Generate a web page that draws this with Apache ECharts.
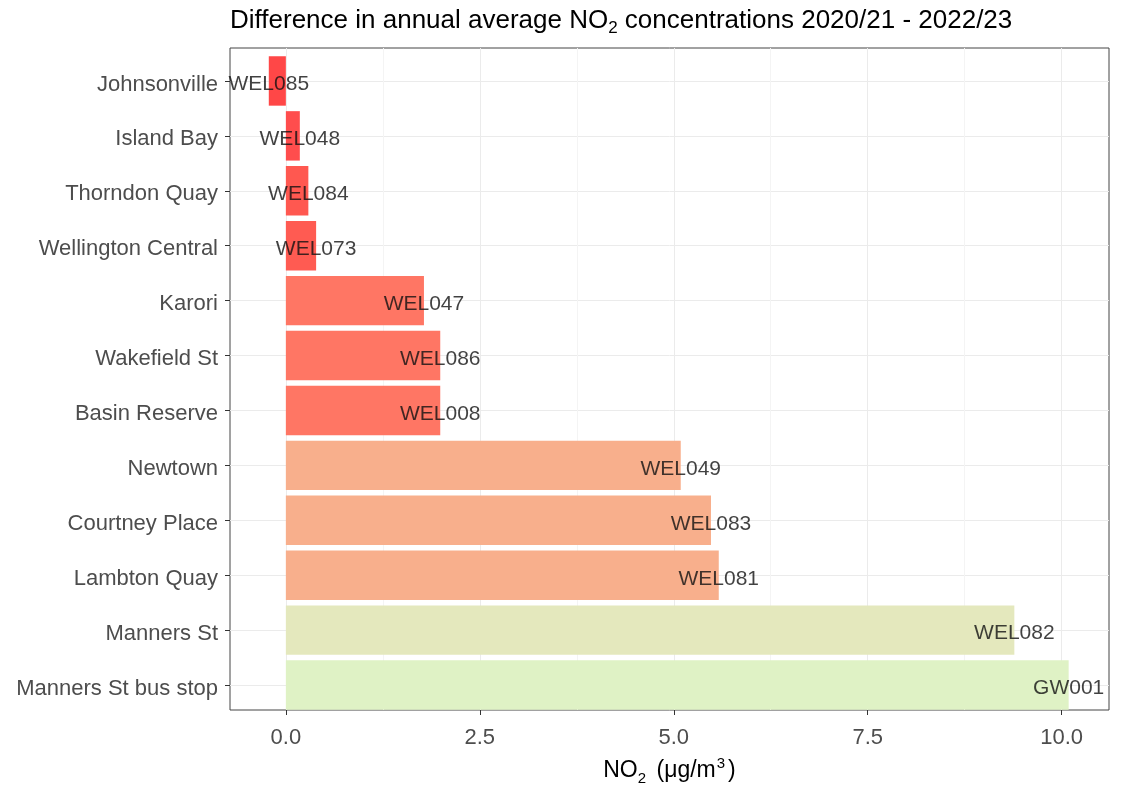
<!DOCTYPE html>
<html>
<head>
<meta charset="utf-8">
<script src="https://cdn.jsdelivr.net/npm/echarts@6/dist/echarts.min.js"></script>
<style>html,body{margin:0;padding:0;background:#fff;}#c{width:1121px;height:791px;}</style>
</head>
<body>
<div id="c"></div>
<script>
const categories = ['Johnsonville','Island Bay','Thorndon Quay','Wellington Central','Karori','Wakefield St','Basin Reserve','Newtown','Courtney Place','Lambton Quay','Manners St','Manners St bus stop'];
const siteCodes = ['WEL085','WEL048','WEL084','WEL073','WEL047','WEL086','WEL008','WEL049','WEL083','WEL081','WEL082','GW001'];
const differences = [-0.22,0.18,0.29,0.39,1.78,1.99,1.99,5.09,5.48,5.58,9.39,10.09];
const xTicks = [0,2.5,5,7.5,10];
const xMinorTicks = [1.25,3.75,6.25,8.75];
const barColors = ['#FF4747','#FF4D4D','#FF5850','#FF5B52','#FF7664','#FF7664','#FF7664','#F8AF8C','#F8AF8C','#F8AF8C','#E4E8BD','#DFF2C5'];

const FONT = "'Liberation Sans', Arial, sans-serif";
const chart = echarts.init(document.getElementById('c'), null, {renderer:'canvas'});
const xMin = -0.72, xMax = 10.61;

chart.setOption({
  animation: false,
  backgroundColor: '#fff',
  title: {
    left: 230, top: 5, padding: 0,
    text: '{t|Difference in annual average NO}{s|2}{t| concentrations 2020/21 - 2022/23}',
    textStyle: {
      rich: {
        t: {fontFamily: FONT, fontSize: 26, fontWeight: 'normal', color: '#000', verticalAlign: 'middle', lineHeight: 32},
        s: {fontFamily: FONT, fontSize: 17, fontWeight: 'normal', color: '#000', verticalAlign: 'bottom', lineHeight: 15}
      }
    }
  },
  grid: [
    {left: 230, right: 12, top: 48, bottom: 73, show: true, borderColor: '#444', borderWidth: 1, backgroundColor: 'transparent'},
    {left: 230, right: 12, top: 53.5, bottom: 78.5, show: false}
  ],
  xAxis: [{
    type: 'value', gridIndex: 0, min: xMin, max: xMax,
    axisLine: {show: false, onZero: false},
    axisTick: {show: true, customValues: xTicks, length: 5, lineStyle: {color: '#333', width: 1}},
    axisLabel: {customValues: xTicks, formatter: v => v.toFixed(1), color: '#4D4D4D', fontSize: 22, fontFamily: FONT, margin: 17},
    splitLine: {show: true, lineStyle: {color: '#EBEBEB', width: 1}},
    name: '{t|NO}{s|2}{t| (μg/m}{p|3}{t|)}',
    nameLocation: 'middle', nameGap: 46,
    nameTextStyle: {
      rich: {
        t: {fontFamily: FONT, fontSize: 23, color: '#000', verticalAlign: 'middle', lineHeight: 30},
        s: {fontFamily: FONT, fontSize: 15, color: '#000', verticalAlign: 'bottom', lineHeight: 14, padding: [0, 4, 0, 0]},
        p: {fontFamily: FONT, fontSize: 15, color: '#000', verticalAlign: 'top', lineHeight: 14, padding: [0, 3, 0, 1]}
      }
    }
  }, {
    type: 'value', gridIndex: 0, min: xMin, max: xMax,
    axisLine: {show: false, onZero: false},
    axisTick: {show: false, customValues: xMinorTicks},
    axisLabel: {show: false, customValues: xMinorTicks},
    splitLine: {show: true, lineStyle: {color: '#F4F4F4', width: 1}}
  }, {
    type: 'value', gridIndex: 1, min: xMin, max: xMax, show: false,
    axisLine: {onZero: false}, splitLine: {show: false}
  }],
  yAxis: [{
    type: 'value', gridIndex: 0, min: 0, max: 1, show: false,
    axisLine: {onZero: false}, splitLine: {show: false}
  }, {
    type: 'category', gridIndex: 1, data: categories, inverse: true,
    axisLine: {show: false, onZero: false},
    axisTick: {show: true, alignWithLabel: true, length: 5, lineStyle: {color: '#333', width: 1}},
    axisLabel: {color: '#4D4D4D', fontSize: 22, fontFamily: FONT, margin: 12, verticalAlign: 'top', lineHeight: 7},
    splitLine: {show: true, alignWithLabel: true, lineStyle: {color: '#EBEBEB', width: 1}}
  }],
  series: [{
    type: 'bar', xAxisIndex: 2, yAxisIndex: 1,
    data: differences.map((v, i) => ({value: v, itemStyle: {color: barColors[i]}})),
    barCategoryGap: '10%',
    z: 2
  }, {
    type: 'scatter', xAxisIndex: 2, yAxisIndex: 1,
    data: differences.map((v, i) => [v, categories[i], siteCodes[i]]),
    symbolSize: 0,
    z: 3,
    label: {
      show: true, position: 'inside', offset: [0, 3.5],
      formatter: p => p.data[2],
      color: '#111', fontSize: 21, fontFamily: FONT
    },
    silent: true
  }]
});
</script>
</body>
</html>
